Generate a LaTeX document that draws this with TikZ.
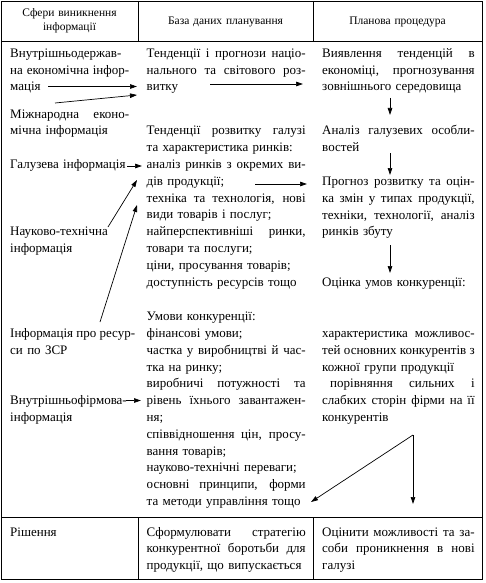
\documentclass[tikz,border=0pt]{standalone}
\usepackage{fontspec}
\setmainfont{Liberation Serif}
\usetikzlibrary{arrows.meta}
\newcommand{\jline}[1]{{\spaceskip=0.25em plus 1fil\relax\makebox[\hsize][s]{#1}}}
\begin{document}
\begin{tikzpicture}[x=1pt,y=-1pt,
  frame/.style={line width=0.9pt},
  cellA/.style={anchor=base west, inner sep=0pt, align=left, text width=119pt, font=\fontsize{13}{16.8}\selectfont},
  cellB/.style={anchor=base west, inner sep=0pt, align=left, text width=159pt, font=\fontsize{13}{16.8}\selectfont},
  cellC/.style={anchor=base west, inner sep=0pt, align=left, text width=152.5pt, font=\fontsize{13}{16.8}\selectfont},
  head/.style={anchor=base, inner sep=0pt, align=center, text width=130pt, font=\fontsize{11.5}{14}\selectfont},
  arr/.style={line width=0.7pt, -{Triangle[length=7pt,width=4.5pt]}},
  ln/.style={line width=0.7pt}
]
\useasboundingbox (0,0) rectangle (485,583);
% table frame
\draw[frame] (1,1) rectangle (482,579);
\draw[frame] (1,41) -- (482,41);
\draw[frame] (1,517) -- (482,517);
\draw[frame] (138,1) -- (138,41);
\draw[frame] (313,1) -- (313,41);
\draw[frame] (138,517) -- (138,579);
\draw[frame] (313,517) -- (313,579);
% header
\node[head] (h1) at (69.5,17) {Сфери виникнення\\інформації};
\node[head] (h2) at (225.5,24.5) {База даних планування};
\node[head] (h3) at (397.5,24.5) {Планова процедура};
% column 1
\node[cellA] (c1a) at (10,57.3) {\jline{Внутрішньодержав-}\\\jline{на економічна інфор-}\\мація};
\node[cellA] (c1b) at (10,118.2) {\jline{Міжнародна еконо-}\\мічна інформація};
\node[cellA] (c1c) at (10,168.6) {Галузева інформація};
\node[cellA] (c1d) at (10,235.8) {Науково-технічна\\інформація};
\node[cellA] (c1e) at (10,337.5) {\jline{Інформація про ресур-}\\си по ЗСР};
\node[cellA] (c1f) at (10,404.7) {Внутрішньофірмова-\\інформація};
\node[cellA] (c1g) at (10,536) {Рішення};
% column 2
\node[cellB] (c2a) at (146.5,57.3) {\jline{Тенденції і прогнози націо-}\\\jline{нального та світового роз-}\\витку};
\node[cellB] (c2b) at (146.5,135) {\jline{Тенденції розвитку галузі}\\та характеристика ринків:\\\jline{аналіз ринків з окремих ви-}\\дів продукції;\\\jline{техніка та технологія, нові}\\види товарів і послуг;\\\jline{найперспективніші ринки,}\\товари та послуги;\\ціни, просування товарів;\\доступність ресурсів тощо};
\node[cellB] (c2c) at (146.5,320.7) {Умови конкуренції:\\фінансові умови;\\\jline{частка у виробництві й час-}\\тка на ринку;\\\jline{виробничі потужності та}\\\jline{рівень їхнього завантажен-}\\ня;\\\jline{співвідношення цін, просу-}\\вання товарів;\\науково-технічні переваги;\\\jline{основні принципи, форми}\\та методи управління тощо};
\node[cellB] (c2d) at (146.5,536) {\jline{Сформулювати стратегію}\\\jline{конкурентної боротьби для}\\продукції, що випускається};
% column 3
\node[cellC] (c3a) at (322,57.3) {\jline{Виявлення тенденцій в}\\\jline{економіці, прогнозування}\\зовнішнього середовища};
\node[cellC] (c3b) at (322,135) {\jline{Аналіз галузевих особли-}\\востей};
\node[cellC] (c3c) at (322,185.4) {\jline{Прогноз розвитку та оцін-}\\\jline{ка змін у типах продукції,}\\\jline{техніки, технології, аналіз}\\ринків збуту};
\node[cellC] (c3d) at (322,286.2) {Оцінка умов конкуренції:};
\node[cellC] (c3e) at (322,337.5) {\jline{характеристика можливос-}\\\jline{тей основних конкурентів з}\\кожної групи продукції\\\jline{\hspace*{8pt}порівняння сильних і}\\\jline{слабких сторін фірми на її}\\конкурентів};
\node[cellC] (c3f) at (322,536) {\jline{Оцінити можливості та за-}\\\jline{соби проникнення в нові}\\галузі};
% arrow end points
\coordinate (p1s) at (48,86.5);   \coordinate (p1e) at (137,86.5);
\coordinate (p2s) at (55,103);    \coordinate (p2e) at (137,95);
\coordinate (p3s) at (210,84);    \coordinate (p3e) at (303,84);
\coordinate (p4s) at (390,98);    \coordinate (p4e) at (390,115);
\coordinate (p5s) at (390,153);   \coordinate (p5e) at (390,175);
\coordinate (p6s) at (255,184);   \coordinate (p6e) at (307,184);
\coordinate (p7s) at (390,245);   \coordinate (p7e) at (390,273);
\coordinate (p8s) at (127,166);   \coordinate (p8e) at (142,166);
\coordinate (p9s) at (108,227);   \coordinate (p9e) at (137,180);
\coordinate (p10s) at (100,322);  \coordinate (p10e) at (137,205);
\coordinate (p11s) at (126,400.5);\coordinate (p11e) at (141,400.5);
\coordinate (apex) at (413,435);
\coordinate (p12e) at (311,502);  \coordinate (p13e) at (413,504);
% arrows
\draw[arr] (p1s) -- (p1e);
\draw[arr] (p2s) -- (p2e);
\draw[arr] (p3s) -- (p3e);
\draw[arr] (p4s) -- (p4e);
\draw[arr] (p5s) -- (p5e);
\draw[arr] (p6s) -- (p6e);
\draw[arr] (p7s) -- (p7e);
\draw[arr] (p8s) -- (p8e);
\draw[arr] (p9s) -- (p9e);
\draw[arr] (p10s) -- (p10e);
\draw[arr] (p11s) -- (p11e);
\draw[arr] (apex) -- (p12e);
\draw[arr] (apex) -- (p13e);
\end{tikzpicture}
\end{document}
